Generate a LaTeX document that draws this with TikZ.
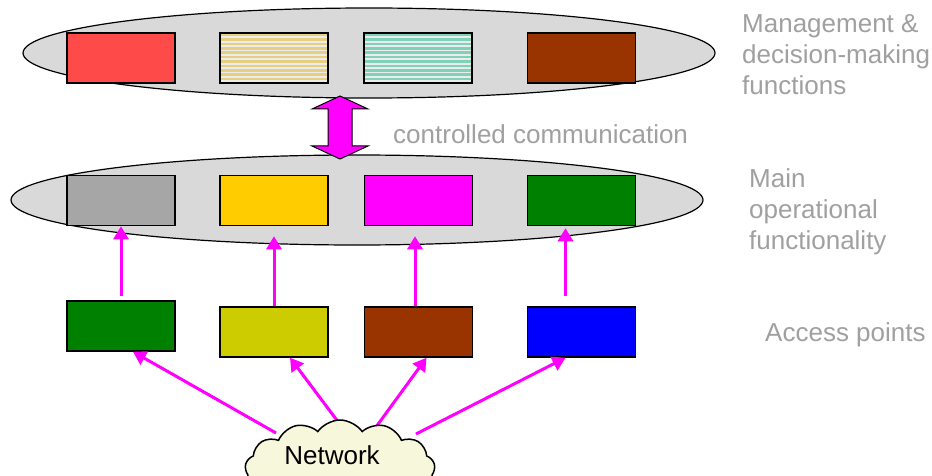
\documentclass[tikz,border=0pt]{standalone}
\usepackage{fontspec}
\setmainfont{Liberation Sans}
\usetikzlibrary{shapes.geometric,shapes.symbols,arrows.meta}
\definecolor{layerfill}{HTML}{D9D9D9}
\definecolor{labelgray}{HTML}{A0A0A0}
\definecolor{linkmag}{HTML}{FF00FF}
\definecolor{cRed}{HTML}{FF4A4A}
\definecolor{cBrown}{HTML}{993300}
\definecolor{cGray}{HTML}{A6A6A6}
\definecolor{cGold}{HTML}{FFCC00}
\definecolor{cGreen}{HTML}{008000}
\definecolor{cOlive}{HTML}{CCCC00}
\definecolor{cBlue}{HTML}{0000FF}
\definecolor{stripeGold}{HTML}{E6CF80}
\definecolor{stripeTeal}{HTML}{7ED2B8}
\definecolor{stripeBack}{HTML}{ECECEC}
\definecolor{cloudfill}{HTML}{F7F7DC}
\tikzset{
  layer/.style={ellipse, draw=black, line width=1.2pt, fill=layerfill,
    minimum width=692pt, minimum height=90pt, inner sep=0pt},
  unit/.style={rectangle, draw=black, line width=1.5pt,
    minimum width=108pt, minimum height=50pt, inner sep=0pt},
  striped/.style={unit, fill=stripeBack, path picture={
    \foreach \k in {0,...,11}
      \draw[#1, line width=2.6pt]
        ([yshift=-2.2pt-\k*4.4pt]path picture bounding box.north west) --
        ([yshift=-2.2pt-\k*4.4pt]path picture bounding box.north east);}},
  link/.style={draw=linkmag, line width=3pt,
    -{Triangle[width=15pt,length=13pt]}},
  caption/.style={font=\fontsize{26}{31}\selectfont, text=labelgray,
    align=left, anchor=west, inner sep=0pt},
}
\begin{document}
\begin{tikzpicture}[x=1pt,y=-1pt]
\clip (0,0) rectangle (932,476);
\fill[white] (0,0) rectangle (932,476);

% the two ellipse layers
\node[layer] (top) at (369,53) {};
\node[layer] (mid) at (357,200) {};

% management layer units
\node[unit, fill=cRed] (t1) at (121,58) {};
\node[striped=stripeGold] (t2) at (274,58) {};
\node[striped=stripeTeal] (t3) at (418,58) {};
\node[unit, fill=cBrown] (t4) at (581.5,58) {};

% operational layer units
\node[unit, fill=cGray] (m1) at (121,200.5) {};
\node[unit, fill=cGold] (m2) at (274,200.5) {};
\node[unit, fill=linkmag] (m3) at (418.5,200.5) {};
\node[unit, fill=cGreen] (m4) at (581.5,200.5) {};

% access points
\node[unit, fill=cGreen] (b1) at (121,326) {};
\node[unit, fill=cOlive] (b2) at (274,332) {};
\node[unit, fill=cBrown] (b3) at (418.5,332) {};
\node[unit, fill=cBlue] (b4) at (581.5,332) {};

% controlled communication between the layers
\coordinate (dc) at (340,127.5);
\begin{scope}[shift={(dc)}]
\draw[fill=linkmag, line width=1pt, line join=miter]
  (0,-31.5) -- (28,-18.5) -- (12,-18.5) -- (12,18.5) -- (28,18.5) --
  (0,31.5) -- (-28,18.5) -- (-12,18.5) -- (-12,-18.5) -- (-28,-18.5) -- cycle;
\end{scope}

% access points feed the operational units
\draw[link] ([yshift=4pt]b1.north) -- (m1.south);
\draw[link] (b2.north) -- ([yshift=-10pt]m2.south);
\draw[link] ([xshift=-3.5pt]b3.north) -- ([xshift=-3.5pt,yshift=-10pt]m3.south);
\draw[link] ([yshift=10pt,xshift=-16pt]b4.north) -- ([yshift=-2pt,xshift=-16pt]m4.south);

% network cloud and its links to the access points
\coordinate (n1) at (276,433);
\coordinate (n2) at (342,427);
\coordinate (n3) at (376,427);
\coordinate (n4) at (416,434);
\draw[link] (n1) -- ([xshift=12pt]b1.south);
\draw[link] (n2) -- ([xshift=16pt]b2.south);
\draw[link] (n3) -- ([xshift=8pt]b3.south);
\draw[link] (n4) -- ([xshift=-16pt]b4.south);
\node[cloud, cloud puffs=13, cloud puff arc=110, draw=black, line width=1.5pt,
  fill=cloudfill, minimum width=190pt, minimum height=100pt] (net) at (340,470) {};
\node[font=\fontsize{26}{31}\selectfont, inner sep=0pt] (nettext) at (332,455) {Network};

% captions
\node[caption] (capTop) at (742,55) {Management \&\\decision-making\\functions};
\node[caption] (capComm) at (393,134) {controlled communication};
\node[caption] (capMid) at (749,212) {Main\\operational\\functionality};
\node[caption] (capAcc) at (765,335) {Access points};
\end{tikzpicture}
\end{document}
